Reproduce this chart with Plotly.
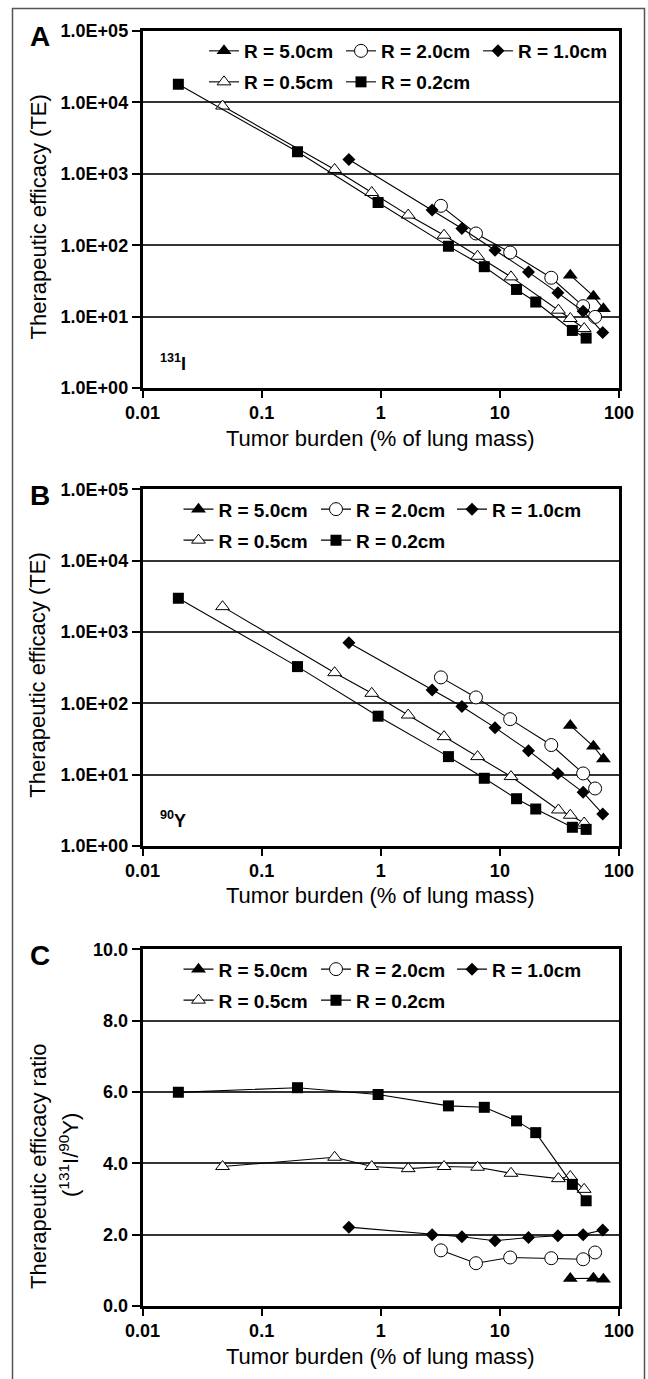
import plotly.graph_objects as go

W, H = 648, 1379
FONT = "Liberation Sans, Arial, sans-serif"

# tumour burden (% of lung mass) for each tumour radius
burden_r50 = [39, 61, 74]
burden_r20 = [3.2, 6.3, 12.2, 27, 50, 63]
burden_r10 = [0.54, 2.7, 4.8, 9.1, 17.4, 30.7, 50, 73]
burden_r05 = [0.047, 0.41, 0.84, 1.7, 3.4, 6.5, 12.4, 31, 39, 51]
burden_r02 = [0.02, 0.2, 0.95, 3.7, 7.4, 13.8, 20, 40.6, 53]

# panel A: 131I therapeutic efficacy
te_i131_r50 = [38, 19.3, 12.9]
te_i131_r20 = [356, 146, 79, 35, 14, 9.9]
te_i131_r10 = [1590, 310, 171, 85, 42, 21.5, 11.9, 6.0]
te_i131_r05 = [8890, 1150, 547, 264, 138, 70, 36, 12.3, 9.4, 6.8]
te_i131_r02 = [17900, 2030, 396, 97, 50, 24, 16, 6.4, 5.0]

# panel B: 90Y therapeutic efficacy
te_y90_r50 = [49, 25, 16.6]
te_y90_r20 = [231, 121, 60, 26, 10.4, 6.4]
te_y90_r10 = [708, 154, 90, 45.6, 21.7, 10.4, 5.65, 2.81]
te_y90_r05 = [2265, 269, 138, 68.5, 34.1, 17.9, 9.4, 3.2, 2.7, 2.1]
te_y90_r02 = [2965, 327, 66, 17.9, 8.9, 4.6, 3.3, 1.83, 1.71]

# panel C: ratio 131I / 90Y
ratio_r50 = [0.77, 0.78, 0.75]
ratio_r20 = [1.56, 1.20, 1.36, 1.34, 1.31, 1.50]
ratio_r10 = [2.21, 2.0, 1.94, 1.83, 1.92, 1.97, 2.0, 2.13]
ratio_r05 = [3.91, 4.17, 3.91, 3.85, 3.91, 3.89, 3.72, 3.57, 3.63, 3.27]
ratio_r02 = [5.99, 6.12, 5.93, 5.61, 5.57, 5.19, 4.86, 3.41, 2.95]

labels = ["R = 5.0cm", "R = 2.0cm", "R = 1.0cm", "R = 0.5cm", "R = 0.2cm"]
burdens = [burden_r50, burden_r20, burden_r10, burden_r05, burden_r02]
panels = [
    [te_i131_r50, te_i131_r20, te_i131_r10, te_i131_r05, te_i131_r02],
    [te_y90_r50, te_y90_r20, te_y90_r10, te_y90_r05, te_y90_r02],
    [ratio_r50, ratio_r20, ratio_r10, ratio_r05, ratio_r02],
]

x_ticks = [0.01, 0.1, 1, 10, 100]
x_ticktext = ["0.01", "0.1", "1", "10", "100"]
te_ticks = [1, 10, 100, 1000, 10000, 100000]
te_ticktext = ["1.0E+00", "1.0E+01", "1.0E+02", "1.0E+03", "1.0E+04", "1.0E+05"]
ratio_ticks = [0, 2, 4, 6, 8, 10]
ratio_ticktext = ["0.0", "2.0", "4.0", "6.0", "8.0", "10.0"]

markers = [
    dict(symbol="triangle-up", size=13, color="black"),
    dict(symbol="circle", size=13, color="white", line=dict(color="black", width=1)),
    dict(symbol="diamond", size=10, color="black"),
    dict(symbol="triangle-up", size=12, color="white", line=dict(color="black", width=1)),
    dict(symbol="square", size=11, color="black"),
]


def px(x):
    return x / W


def py(y):
    return 1 - y / H


# pixel geometry of the three plot areas (top, bottom)
plot_left, plot_right = 142.5, 619
panel_px = [(31, 388), (489.3, 846), (949.3, 1306)]
legend_x = [[204, 341, 478], [178.5, 316, 452], [178.5, 316, 452]]

fig = go.Figure()
layout = {}

n = 0
for p in range(3):
    ax = "" if p == 0 else str(p + 1)
    for k in range(5):
        n += 1
        lg = "legend" if n == 1 else "legend%d" % n
        fig.add_trace(go.Scatter(
            x=burdens[k], y=panels[p][k], name=labels[k],
            mode="lines+markers",
            line=dict(color="black", width=1.1),
            marker=markers[k],
            xaxis="x" + ax, yaxis="y" + ax,
            legend=lg,
        ))
        top = panel_px[p][0]
        row = 0 if k < 3 else 1
        col = k if k < 3 else k - 3
        layout[lg] = dict(
            x=px(legend_x[p][col]), y=py(top + (20 if row == 0 else 51)),
            xanchor="left", yanchor="middle",
            bgcolor="rgba(0,0,0,0)", borderwidth=0,
            font=dict(family=FONT, size=19, color="black", weight="bold"),
        )

for p in range(3):
    ax = "" if p == 0 else str(p + 1)
    top, bot = panel_px[p]
    layout["xaxis" + ax] = dict(
        type="log", range=[-2, 2], domain=[px(plot_left), px(plot_right)],
        anchor="y" + ax, tickvals=x_ticks, ticktext=x_ticktext,
        ticks="outside", ticklen=7, tickwidth=2, tickcolor="black",
        showline=True, linewidth=2.5, linecolor="black", mirror=True,
        showgrid=False, zeroline=False,
        tickfont=dict(family=FONT, size=18, color="black", weight="bold"),
    )
    yax = dict(
        domain=[py(bot), py(top)], anchor="x" + ax,
        ticks="outside", ticklen=8, tickwidth=2, tickcolor="black",
        showline=True, linewidth=2.5, linecolor="black", mirror=True,
        showgrid=True, gridcolor="#333333", gridwidth=1.5, zeroline=False,
        tickfont=dict(family=FONT, size=18, color="black", weight="bold"),
    )
    if p < 2:
        yax.update(type="log", range=[0, 5], tickvals=te_ticks, ticktext=te_ticktext)
    else:
        yax.update(range=[0, 10], tickvals=ratio_ticks, ticktext=ratio_ticktext)
    layout["yaxis" + ax] = yax

title_font = dict(family=FONT, size=22, color="black")
annotations = []
for p, letter in enumerate(["A", "B", "C"]):
    top, bot = panel_px[p]
    annotations.append(dict(text=letter, x=px(28), y=py(top + 6), xanchor="left", yanchor="middle",
                            font=dict(family=FONT, size=28, color="black", weight="bold")))
    annotations.append(dict(text="Tumor burden (% of lung mass)", x=px(380.7), y=py(bot + 50),
                            xanchor="center", yanchor="middle", font=title_font))
    if p < 2:
        annotations.append(dict(text="Therapeutic efficacy (TE)", x=px(38), y=py((top + bot) / 2 + 8),
                                textangle=-90, xanchor="center", yanchor="middle", font=title_font))

annotations.append(dict(text="Therapeutic efficacy ratio", x=px(38), y=py(1167), textangle=-90,
                        xanchor="center", yanchor="middle", font=title_font))
annotations.append(dict(text="(<sup>131</sup>I/<sup>90</sup>Y)", x=px(69), y=py(1155), textangle=-90,
                        xanchor="center", yanchor="middle", font=title_font))
annotations.append(dict(text="<sup>131</sup>I", x=px(158), y=py(362), xanchor="left", yanchor="middle",
                        font=dict(family=FONT, size=18, color="black", weight="bold")))
annotations.append(dict(text="<sup>90</sup>Y", x=px(158), y=py(820), xanchor="left", yanchor="middle",
                        font=dict(family=FONT, size=18, color="black", weight="bold")))
for a in annotations:
    a.update(xref="paper", yref="paper", showarrow=False)

# outer frame of the figure
shapes = [dict(type="rect", xref="paper", yref="paper", x0=px(12.5), x1=px(644.5),
               y0=py(1390), y1=py(8.5), line=dict(color="#555555", width=1.5))]

fig.update_layout(
    width=W, height=H,
    margin=dict(l=0, r=0, t=0, b=0, autoexpand=False),
    paper_bgcolor="white", plot_bgcolor="white",
    showlegend=True,
    annotations=annotations, shapes=shapes,
    **layout,
)

# page body margin off so the 648x1379 figure fills the window exactly
fig.write_html("out.html", config={"displayModeBar": False},
               post_script="document.body.style.margin='0px';")
